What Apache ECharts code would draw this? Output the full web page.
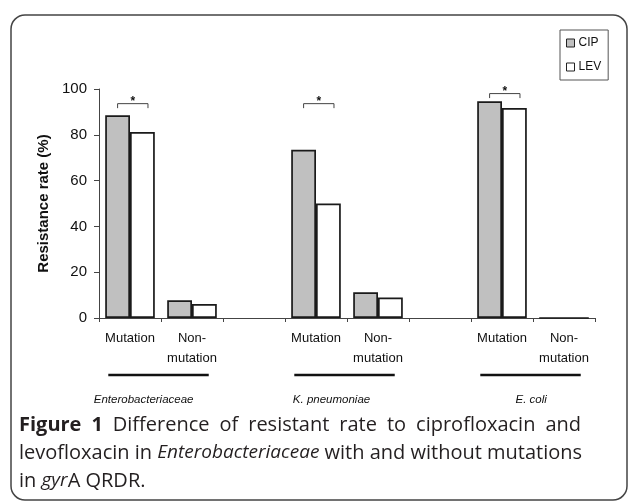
<!DOCTYPE html>
<html>
<head>
<meta charset="utf-8">
<script src="https://cdn.jsdelivr.net/npm/echarts@6/dist/echarts.min.js"></script>
<style>html,body{margin:0;padding:0;background:#fff;}#c{width:630px;height:502px;}</style>
</head>
<body>
<div id="c"></div>
<script>
var categories = ['Mutation', 'Non-\nmutation', '', 'Mutation', 'Non-\nmutation', '', 'Mutation', 'Non-\nmutation'];
var cipValues = [88.5, 7.7, null, 73.5, 11.2, null, 94.6, 0];
var levValues = [81.2, 6.1, null, 50.0, 8.9, null, 91.7, 0];
var yTicks = [0, 20, 40, 60, 80, 100];
var groupNames = ['Enterobacteriaceae', 'K. pneumoniae', 'E. coli'];
var groupStart = [0, 3, 6];
var sigIndex = [0, 3, 6];
var sigTop = [93.6, 93.6, 98.0];
var captionLines = [
  '{b|Figure} {b|1} Difference of resistant rate to ciprofloxacin and',
  'levofloxacin in {i|Enterobacteriaceae} with and without mutations',
  'in {i|gyr}A QRDR.'
];

var groupLabelShift = [-0.24, -0.21, 0.01];
var justifyLine = [true, false, false];
var capWidth = 562;
var capSize = 20;
var capItalicSize = 19;

var chart = echarts.init(document.getElementById('c'), null, {renderer: 'canvas'});
var font = 'Liberation Sans, Arial, sans-serif';
var capFont = '"Open Sans", sans-serif';

// justified first caption line (word spacing computed from measured word widths)
var mctx = document.createElement('canvas').getContext('2d');
function measure(txt, kind) {
  var pre = kind === 'b' ? 'bold ' : (kind === 'i' ? 'italic ' : '');
  var size = kind === 'i' ? capItalicSize : capSize;
  mctx.font = pre + size + 'px ' + capFont;
  return mctx.measureText(txt).width;
}
function wordWidth(word) {
  var re = /\{(\w)\|([^}]*)\}|([^{]+)/g, m, w = 0;
  while ((m = re.exec(word))) {
    if (m[3] !== undefined) w += measure(m[3], 'r');
    else w += measure(m[2], m[1]);
  }
  return w;
}
var capRich = {
  b: {fontFamily: capFont, fontSize: capSize, fontWeight: 'bold', lineHeight: 28, fill: '#231f20'},
  i: {fontFamily: capFont, fontSize: capItalicSize, fontStyle: 'italic', lineHeight: 28, fill: '#231f20'}
};
var capText = captionLines.map(function (line, li) {
  if (!justifyLine[li]) return line;
  var words = line.split(' ');
  var total = 0;
  words.forEach(function (wd) { total += wordWidth(wd); });
  var gap = (capWidth - total) / (words.length - 1);
  capRich['s' + li] = {fontFamily: capFont, fontSize: capSize, width: Math.max(gap, 4), lineHeight: 28};
  return words.join('{s' + li + '| }');
}).join('\n');

var option = {
  animation: false,
  backgroundColor: '#fff',
  grid: {left: 99, right: 35, top: 89, bottom: 184},
  legend: {
    data: ['CIP', 'LEV'],
    orient: 'vertical',
    left: 560, top: 30,
    padding: [7, 7, 7, 6],
    itemWidth: 8, itemHeight: 8, itemGap: 12,
    borderColor: '#555', borderWidth: 1,
    icon: 'rect',
    itemStyle: {borderWidth: 1, borderColor: '#222'},
    textStyle: {fontFamily: font, fontSize: 12, color: '#111', padding: [0, 0, 0, -1]}
  },
  xAxis: {
    type: 'category',
    data: categories,
    axisLine: {lineStyle: {color: '#444', width: 1}},
    axisTick: {show: true, interval: 0, length: 4, lineStyle: {color: '#444'}},
    axisLabel: {interval: 0, fontFamily: font, fontSize: 13, color: '#111', lineHeight: 20, margin: 10}
  },
  yAxis: {
    type: 'value',
    min: 0, max: 100, interval: 20,
    name: 'Resistance rate (%)',
    nameLocation: 'middle',
    nameGap: 47,
    nameTextStyle: {fontFamily: font, fontSize: 15, fontWeight: 'bold', color: '#111'},
    axisLine: {show: true, lineStyle: {color: '#444', width: 1}},
    axisTick: {show: true, length: 5, lineStyle: {color: '#444'}},
    splitLine: {show: false},
    axisLabel: {fontFamily: font, fontSize: 15, color: '#111', margin: 12,
      formatter: function (v) { return yTicks.indexOf(v) >= 0 ? String(v) : ''; }}
  },
  series: [
    {
      name: 'CIP', type: 'bar', data: cipValues,
      barGap: '0%', barCategoryGap: '20%',
      itemStyle: {color: '#c0c0c0', borderColor: '#1a1a1a', borderWidth: 1.7}
    },
    {
      name: 'LEV', type: 'bar', data: levValues,
      barGap: '0%', barCategoryGap: '20%',
      itemStyle: {color: '#ffffff', borderColor: '#1a1a1a', borderWidth: 1.7}
    },
    {
      name: 'sig', type: 'custom', silent: true, clip: false, z: 5,
      data: sigIndex.map(function (c, k) { return [c, sigTop[k]]; }),
      renderItem: function (params, api) {
        var p = api.coord([api.value(0), api.value(1)]);
        var band = api.size([1, 0])[0];
        var x1 = p[0] - 0.2 * band, x2 = p[0] + 0.29 * band, y = p[1];
        return {type: 'group', children: [
          {type: 'polyline', shape: {points: [[x1, y + 4.5], [x1, y], [x2, y], [x2, y + 4.5]]},
           style: {stroke: '#444', lineWidth: 1, fill: null}},
          {type: 'text', x: (x1 + x2) / 2, y: y - 2,
           style: {text: '*', fontFamily: font, fontSize: 12, fontWeight: 'bold', fill: '#111', align: 'center', verticalAlign: 'middle'}}
        ]};
      }
    },
    {
      name: 'groups', type: 'custom', silent: true, clip: false, z: 5,
      data: groupStart.map(function (c) { return [c, 0]; }),
      renderItem: function (params, api) {
        var a = api.coord([api.value(0), 0]);
        var b = api.coord([api.value(0) + 1, 0]);
        var band = api.size([1, 0])[0];
        var mid = (a[0] + b[0]) / 2 - 0.04 * band, y = a[1];
        return {type: 'group', children: [
          {type: 'line', shape: {x1: mid - 0.81 * band, y1: y + 57, x2: mid + 0.81 * band, y2: y + 57},
           style: {stroke: '#111', lineWidth: 2.5}},
          {type: 'text', x: mid + groupLabelShift[params.dataIndex] * band, y: y + 82,
           style: {text: groupNames[params.dataIndex], fontFamily: font, fontSize: 11.5, fontStyle: 'italic', fill: '#111', align: 'center', verticalAlign: 'middle'}}
        ]};
      }
    }
  ],
  graphic: [
    {type: 'rect', z: 0, shape: {x: 11, y: 15, width: 616, height: 485, r: 14},
     style: {stroke: '#444', lineWidth: 1.5, fill: null}},
    {type: 'text', left: 19, top: 411,
     style: {
       text: capText,
       fontFamily: capFont, fontSize: capSize, lineHeight: 28, fill: '#231f20',
       rich: capRich
     }}
  ]
};
chart.setOption(option);
</script>
</body>
</html>
